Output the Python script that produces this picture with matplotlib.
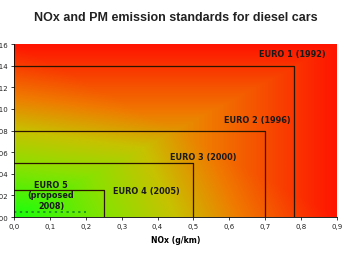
import numpy as np
import matplotlib
matplotlib.use("Agg")
import matplotlib.pyplot as plt
from matplotlib.colors import LinearSegmentedColormap
from matplotlib.ticker import FuncFormatter

plt.rcParams['font.family'] = ['DejaVu Sans']

standards = ["EURO 1 (1992)", "EURO 2 (1996)", "EURO 3 (2000)", "EURO 4 (2005)"]
nox_limits = [0.78, 0.70, 0.50, 0.25]
pm_limits = [0.14, 0.08, 0.05, 0.025]
euro5_label = "EURO 5\n(proposed\n2008)"
euro5_nox = 0.20
euro5_pm = 0.005
x_ticks = [0.0, 0.1, 0.2, 0.3, 0.4, 0.5, 0.6, 0.7, 0.8, 0.9]
y_ticks = [0.00, 0.02, 0.04, 0.06, 0.08, 0.10, 0.12, 0.14, 0.16]

fig = plt.figure(figsize=(3.52, 2.55), dpi=100)
ax = fig.add_axes([0.040, 0.145, 0.917, 0.678])

xmax, ymax = 0.9, 0.16
xs = np.linspace(0, 1, 300)
ys = np.linspace(0, 1, 200)
U, V = np.meshgrid(xs, ys)
T = np.maximum(U, V) * 0.75 + 0.25 * np.clip((U + V) / 1.0, 0, 1)
T = np.clip(T, 0, 1)
cmap = LinearSegmentedColormap.from_list("g2r", [
    (0.0, (0.10, 1.0, 0.05)),
    (0.30, (0.55, 0.88, 0.0)),
    (0.50, (0.78, 0.76, 0.0)),
    (0.70, (0.94, 0.48, 0.0)),
    (1.0, (1.0, 0.08, 0.0))])
ax.imshow(T, extent=[0, xmax, 0, ymax], origin='lower', aspect='auto',
          cmap=cmap, vmin=0, vmax=1, interpolation='bilinear', zorder=0)

for nox, pm in zip(nox_limits, pm_limits):
    ax.plot([0, nox, nox], [pm, pm, 0], color='#2a1500', lw=0.9, zorder=2)

ax.plot([0, euro5_nox], [euro5_pm, euro5_pm], color='#1f9a1f', lw=1.4,
        linestyle=(0, (1.2, 1.8)), zorder=2)

tk = dict(fontsize=5.9, fontweight='bold', color='#1a1a1a', zorder=3)
ax.text(0.87, 0.151, standards[0], ha='right', va='center', **tk)
ax.text(0.772, 0.090, standards[1], ha='right', va='center', **tk)
ax.text(0.621, 0.056, standards[2], ha='right', va='center', **tk)
ax.text(0.37, 0.025, standards[3], ha='center', va='center', **tk)
ax.text(0.103, 0.0205, euro5_label, ha='center', va='center',
        linespacing=1.2, **tk)

ax.set_xlim(0, xmax)
ax.set_ylim(0, ymax)
ax.set_xticks(x_ticks)
ax.set_yticks(y_ticks)
ax.xaxis.set_major_formatter(FuncFormatter(lambda v, p: f"{v:.1f}".replace('.', ',')))
ax.yaxis.set_major_formatter(FuncFormatter(lambda v, p: f"{v:.2f}".replace('.', ',')))
ax.tick_params(axis='both', labelsize=5.0, length=2.5, width=0.6, pad=2,
               colors='#222222')
for s in ['top', 'right']:
    ax.spines[s].set_visible(False)
for s in ['left', 'bottom']:
    ax.spines[s].set_linewidth(0.6)
ax.set_xlabel("NOx (g/km)", fontsize=5.6, fontweight='bold', labelpad=4)
fig.text(0.5, 0.93, "NOx and PM emission standards for diesel cars",
         ha='center', va='center', fontsize=9, fontweight='bold', color='#222222',
         family=['Liberation Sans', 'DejaVu Sans'])

fig.savefig("out.png", dpi=100)
